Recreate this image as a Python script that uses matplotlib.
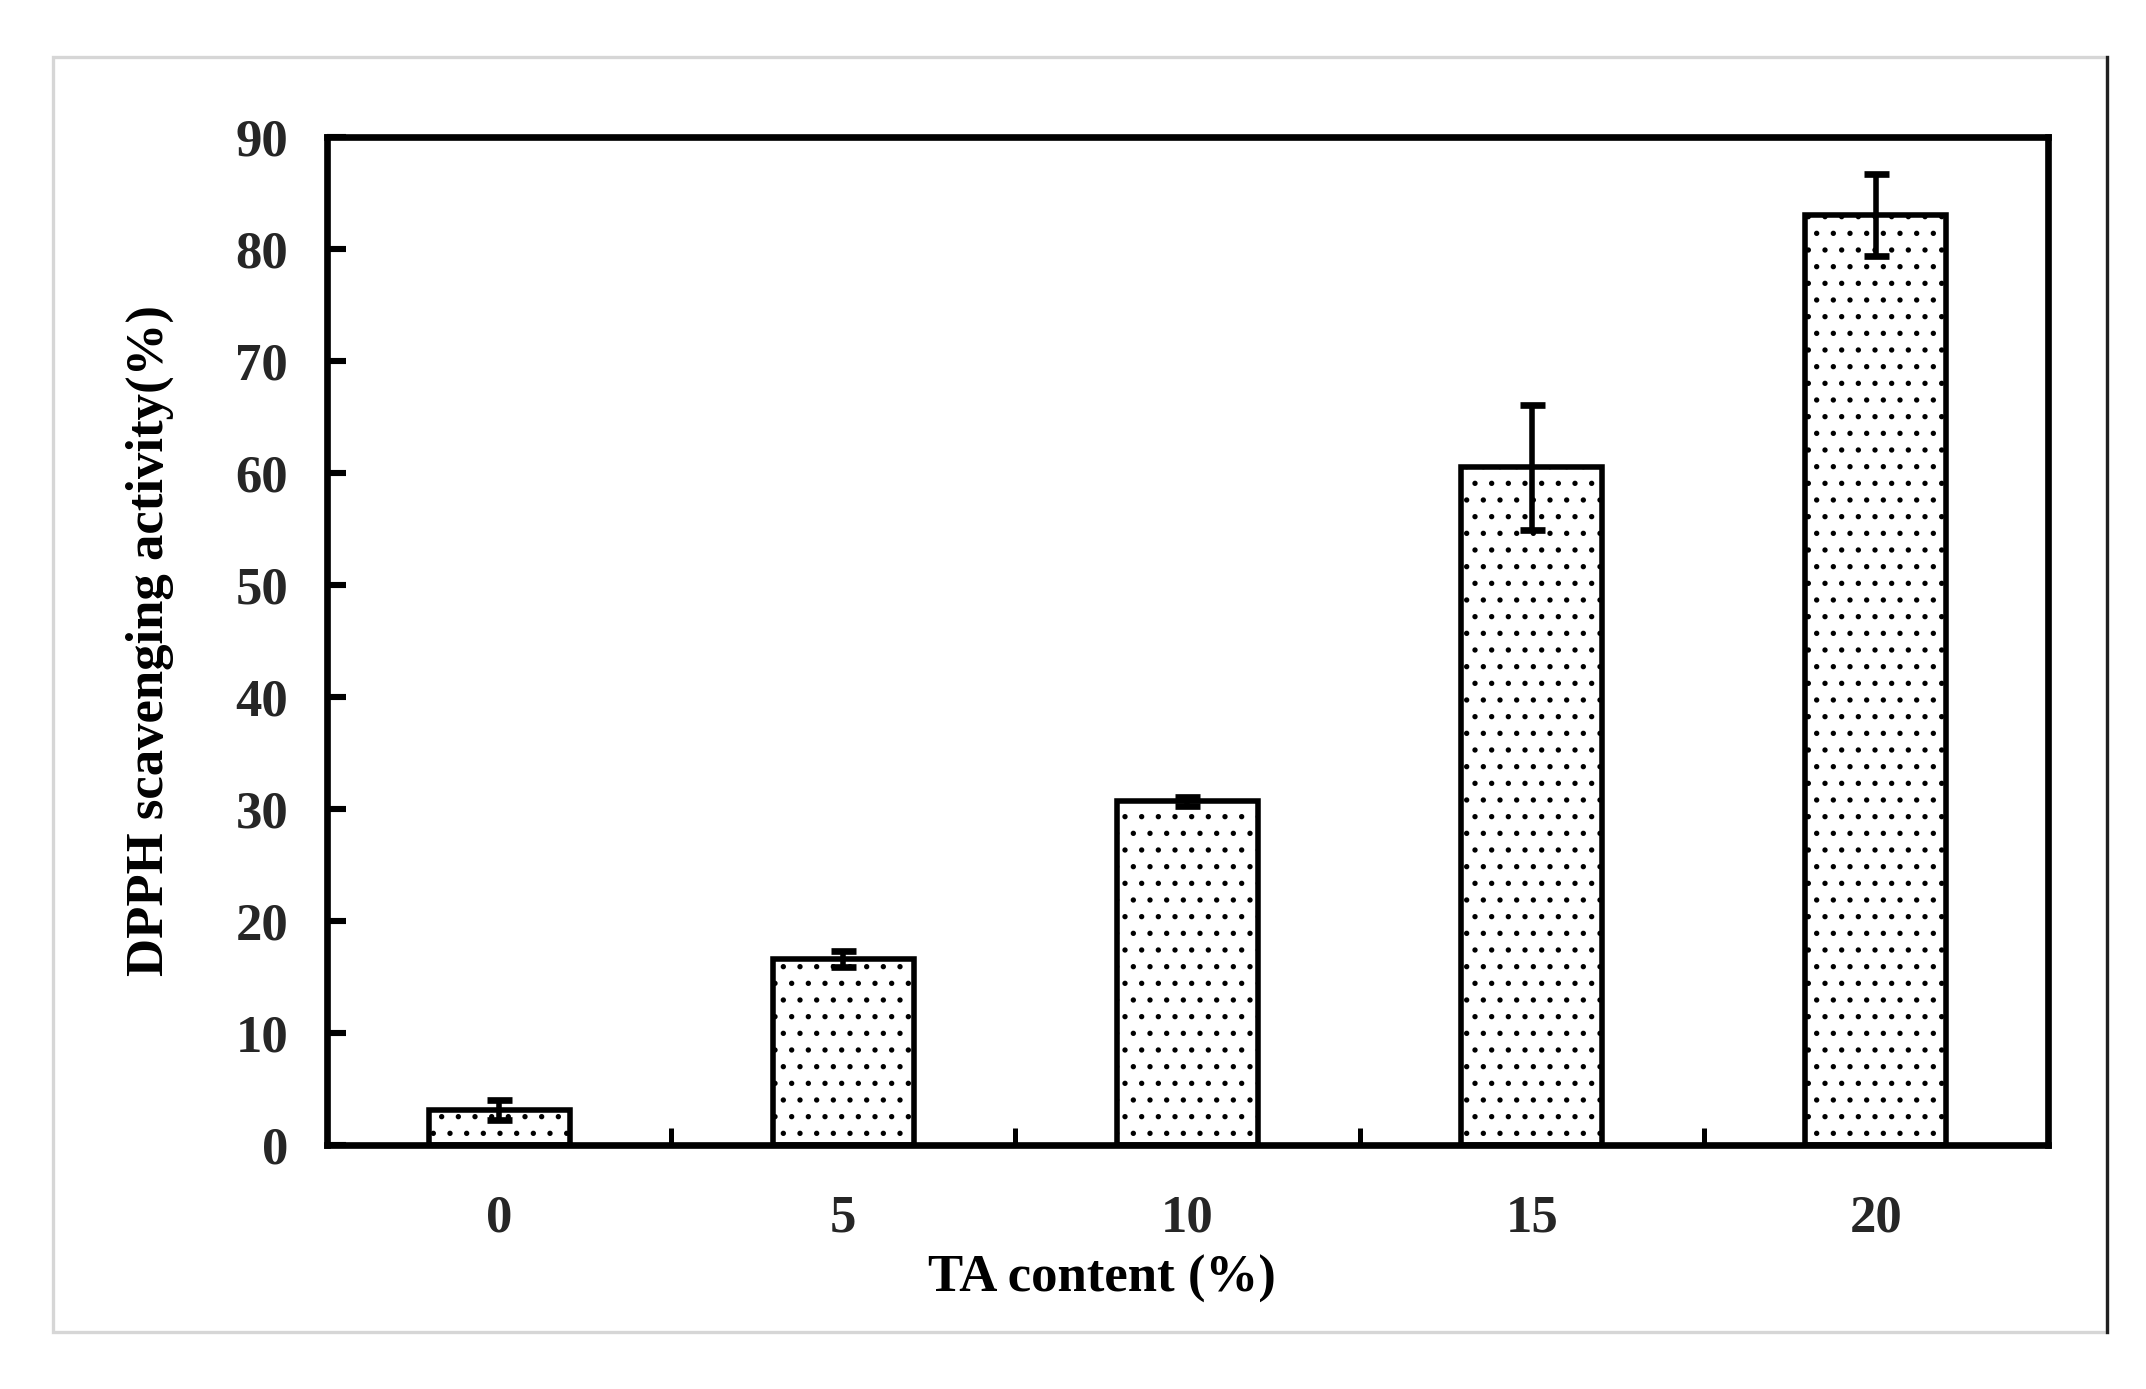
import matplotlib
matplotlib.use("Agg")
import matplotlib.pyplot as plt
from matplotlib.patches import Rectangle
from matplotlib.lines import Line2D

# data
ta_content = ["0", "5", "10", "15", "20"]
dpph_mean = [3.1, 16.6, 30.7, 60.5, 83.0]
dpph_err = [0.9, 0.75, 0.4, 5.6, 3.65]
y_ticks = [0, 10, 20, 30, 40, 50, 60, 70, 80, 90]

plt.rcParams["font.family"] = ["Liberation Serif", "DejaVu Serif"]
plt.rcParams["font.weight"] = "bold"
plt.rcParams["hatch.linewidth"] = 0.7
plt.rcParams["hatch.color"] = "black"

fig = plt.figure(figsize=(10.73, 6.945), dpi=200)
ax = fig.add_axes([0.1524, 0.1757, 0.9543 - 0.1524, 0.9014 - 0.1757])

# outer frame around the whole picture (as in the source figure)
fig.patches.append(Rectangle((0.0247, 0.041), 0.9818 - 0.0247, 0.959 - 0.041,
                             transform=fig.transFigure, fill=False,
                             edgecolor="#d6d6d6", lw=1.2))
fig.lines.append(Line2D([0.9818, 0.9818], [0.041, 0.959], transform=fig.transFigure,
                        color="#202020", lw=1.2))

x = list(range(len(ta_content)))
ax.bar(x, dpph_mean, width=0.41, color="white", edgecolor="black",
       linewidth=2.0, hatch="..", zorder=2)
ax.errorbar(x, dpph_mean, yerr=dpph_err, fmt="none", ecolor="black",
            elinewidth=2.0, capsize=4.5, capthick=2.4, zorder=3)

ax.set_xlim(-0.5, 4.5)
ax.set_ylim(0, 90)
ax.set_yticks(y_ticks)
ax.set_xticks(x)
ax.set_xticklabels(ta_content)
ax.set_xticks([i + 0.5 for i in x[:-1]], minor=True)

for sp in ax.spines.values():
    sp.set_linewidth(2.4)

ax.tick_params(axis="y", direction="in", length=7, width=2.2, pad=14,
               labelsize=19, labelcolor="#262626")
ax.tick_params(axis="x", which="major", length=0, pad=18,
               labelsize=19, labelcolor="#262626")
ax.tick_params(axis="x", which="minor", direction="in", length=6, width=1.8)

ax.set_xlabel("TA content (%)", fontsize=19, fontweight="bold", labelpad=4)
ax.xaxis.set_label_coords(0.45, -0.109)
ax.set_ylabel("DPPH scavenging activity(%)", fontsize=19, fontweight="bold",
              labelpad=22)

fig.savefig("out.png", dpi=200, facecolor="white")
